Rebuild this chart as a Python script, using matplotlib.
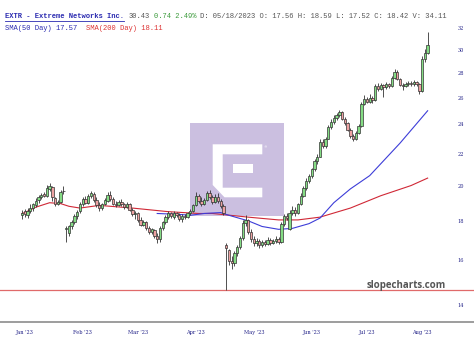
import matplotlib
matplotlib.use("Agg")
import matplotlib.pyplot as plt
from matplotlib.patches import Rectangle, Polygon
from matplotlib.lines import Line2D

# daily candles, Jan '23 - Aug '23
opens = [18.30, 18.55, 18.30, 18.55, 18.70, 18.85, 19.15, 19.30, 19.50, 19.40,
         19.80, 19.90, 19.25, 18.90, 19.05, 19.65, 17.55, 17.35, 17.70, 17.95,
         18.25, 18.55, 18.95, 19.20, 19.00, 19.40, 19.50, 19.15, 18.85, 18.70,
         18.95, 19.10, 19.45, 19.20, 18.95, 18.85, 19.05, 18.90, 18.75, 18.95,
         18.60, 18.35, 18.45, 18.05, 17.80, 17.95, 17.60, 17.40, 17.50, 17.20,
         17.05, 17.60, 17.95, 18.20, 18.40, 18.20, 18.45, 18.30, 18.10, 18.25,
         18.20, 18.40, 18.55, 18.85, 19.40, 19.10, 18.90, 19.15, 19.55, 19.30,
         19.05, 19.35, 19.10, 18.80, 16.75, 16.50, 15.95, 15.85, 16.35, 16.65,
         17.10, 17.90, 18.05, 17.40, 17.05, 16.85, 16.95, 16.75, 16.90, 16.80,
         17.00, 16.85, 16.95, 17.05, 16.90, 17.85, 18.25, 17.56, 18.42, 18.60,
         18.40, 18.90, 19.40, 19.85, 20.30, 20.55, 21.00, 21.50, 21.80, 22.80,
         22.50, 23.00, 23.80, 24.20, 24.50, 24.70, 24.90, 24.40, 24.10, 23.60,
         23.20, 22.95, 23.40, 23.90, 25.50, 25.90, 25.70, 26.00, 25.80, 26.90,
         26.70, 27.00, 26.80, 27.10, 26.90, 27.60, 28.10, 27.50, 27.00, 26.90,
         27.10, 27.20, 27.05, 27.25, 27.10, 26.50, 29.20, 29.70]
highs = [18.60, 18.65, 18.70, 18.95, 19.00, 19.25, 19.45, 19.55, 19.60, 20.05,
         20.15, 19.95, 19.35, 19.15, 19.75, 19.95, 17.70, 17.80, 18.05, 18.35,
         18.60, 19.05, 19.35, 19.40, 19.50, 19.70, 19.60, 19.30, 19.05, 19.00,
         19.25, 19.60, 19.65, 19.35, 19.10, 19.15, 19.20, 19.00, 19.05, 19.00,
         18.70, 18.55, 18.50, 18.20, 18.05, 18.00, 17.70, 17.60, 17.55, 17.35,
         17.70, 18.00, 18.30, 18.55, 18.50, 18.55, 18.50, 18.40, 18.35, 18.35,
         18.50, 18.65, 18.95, 19.60, 19.50, 19.30, 19.25, 19.70, 19.75, 19.45,
         19.50, 19.55, 19.20, 18.90, 16.85, 16.55, 16.20, 16.45, 16.75, 17.20,
         18.05, 18.30, 18.10, 17.55, 17.20, 17.10, 17.05, 17.00, 17.00, 17.15,
         17.10, 17.05, 17.20, 17.15, 17.95, 18.35, 18.40, 18.59, 18.80, 18.75,
         19.00, 19.55, 19.95, 20.45, 20.70, 21.10, 21.65, 21.95, 22.95, 22.95,
         23.15, 23.95, 24.40, 24.70, 24.85, 25.05, 24.95, 24.55, 24.20, 23.75,
         23.35, 23.55, 24.05, 25.70, 26.20, 26.05, 26.25, 26.10, 27.05, 27.20,
         27.15, 27.10, 27.25, 27.20, 27.75, 28.35, 28.20, 27.60, 27.20, 27.25,
         27.35, 27.30, 27.40, 27.35, 27.20, 29.40, 30.10, 31.60]
lows = [18.10, 18.20, 18.15, 18.40, 18.55, 18.75, 19.00, 19.20, 19.30, 19.35,
        19.70, 19.10, 18.80, 18.85, 19.00, 19.50, 16.90, 17.20, 17.55, 17.85,
        18.10, 18.45, 18.80, 18.90, 18.95, 19.25, 19.05, 18.75, 18.55, 18.60,
        18.85, 19.05, 19.10, 18.85, 18.75, 18.80, 18.80, 18.65, 18.70, 18.55,
        18.25, 18.10, 17.95, 17.70, 17.70, 17.50, 17.30, 17.30, 17.10, 16.85,
        16.90, 17.50, 17.85, 18.10, 18.15, 18.10, 18.20, 18.00, 17.95, 18.10,
        18.15, 18.30, 18.50, 18.80, 19.00, 18.80, 18.85, 19.10, 19.20, 18.95,
        19.00, 19.00, 18.70, 18.30, 14.64, 15.80, 15.60, 15.75, 16.20, 16.55,
        17.00, 17.75, 17.30, 16.90, 16.70, 16.70, 16.60, 16.65, 16.70, 16.75,
        16.75, 16.80, 16.85, 16.80, 16.85, 17.75, 18.05, 17.52, 18.30, 18.25,
        18.35, 18.85, 19.30, 19.75, 20.15, 20.45, 20.90, 21.30, 21.75, 22.40,
        22.40, 22.95, 23.70, 24.05, 24.30, 24.55, 24.30, 23.95, 23.50, 23.05,
        22.85, 22.90, 23.30, 23.85, 25.40, 25.55, 25.60, 25.60, 25.75, 26.55,
        26.60, 26.05, 26.70, 26.75, 26.85, 27.50, 27.40, 26.90, 26.60, 26.80,
        26.95, 26.90, 26.95, 26.95, 26.25, 26.45, 28.95, 29.60]
closes = [18.45, 18.35, 18.55, 18.70, 18.90, 19.10, 19.30, 19.45, 19.40, 19.85,
          19.95, 19.30, 18.95, 19.05, 19.60, 19.70, 17.60, 17.70, 17.95, 18.25,
          18.50, 18.95, 19.20, 19.00, 19.40, 19.55, 19.15, 18.85, 18.70, 18.90,
          19.15, 19.45, 19.20, 18.95, 18.85, 19.05, 18.90, 18.75, 18.95, 18.60,
          18.35, 18.45, 18.05, 17.80, 17.95, 17.60, 17.40, 17.55, 17.20, 17.05,
          17.60, 17.95, 18.20, 18.40, 18.25, 18.45, 18.30, 18.10, 18.25, 18.20,
          18.40, 18.55, 18.85, 19.40, 19.10, 18.90, 19.15, 19.55, 19.30, 19.05,
          19.35, 19.10, 18.80, 18.40, 16.60, 15.95, 15.85, 16.35, 16.65, 17.10,
          17.90, 18.05, 17.40, 17.05, 16.85, 16.95, 16.75, 16.90, 16.80, 17.00,
          16.85, 16.95, 17.05, 16.90, 17.85, 18.25, 18.15, 18.42, 18.60, 18.40,
          18.90, 19.40, 19.85, 20.30, 20.55, 21.00, 21.50, 21.80, 22.80, 22.50,
          23.00, 23.80, 24.20, 24.50, 24.70, 24.90, 24.40, 24.10, 23.60, 23.20,
          22.95, 23.40, 23.90, 25.50, 25.90, 25.70, 26.00, 25.80, 26.90, 26.70,
          27.00, 26.80, 27.10, 26.90, 27.60, 28.10, 27.50, 27.00, 26.90, 27.10,
          27.20, 27.05, 27.25, 27.10, 26.50, 29.20, 29.69, 30.43]

# moving averages (day index, value)
sma200_days = [0, 1, 5, 10, 14, 17, 21, 28, 40, 53, 64, 69, 82, 93, 100, 108, 119, 130, 141, 147]
sma200_vals = [18.40, 18.45, 18.75, 19.00, 18.95, 18.80, 18.70, 18.85, 18.70, 18.50,
               18.40, 18.40, 18.20, 18.05, 18.05, 18.20, 18.70, 19.40, 20.00, 20.45]
sma50_days = [49, 57, 61, 66, 72, 75, 82, 87, 93, 98, 104, 108, 113, 119, 126, 137, 147]
sma50_vals = [18.40, 18.35, 18.30, 18.40, 18.45, 18.30, 18.00, 17.70, 17.55, 17.60,
              17.85, 18.15, 19.00, 19.80, 20.60, 22.70, 25.00]

support = 14.64
month_labels = ["Jan '23", "Feb '23", "Mar '23", "Apr '23", "May '23", "Jun '23", "Jul '23", "Aug '23"]
month_days = [1, 22, 42, 63, 84, 105, 125, 145]
price_ticks = [14, 16, 18, 20, 22, 24, 26, 28, 30, 32]

W, H = 474, 341


def px(x, y):
    return x / W, 1 - y / H


fig = plt.figure(figsize=(W / 100, H / 100), dpi=100)
ax = fig.add_axes([0, 19 / H, 1, (322 - 10) / H])
ax.set_yscale("log")
ax.set_ylim(13.31, 33.77)
ax.set_xlim(-7.97, 163.8)

# watermark
ax.add_patch(Rectangle(px(190, 216), 94 / W, 93 / H, transform=fig.transFigure,
                       facecolor="#cbbfe0", edgecolor="none", zorder=0.5))
e_shape = [(212.7, 144.3), (262.3, 144.3), (262.3, 154.3), (222.7, 154.3), (222.7, 187.7),
           (262.3, 187.7), (262.3, 197.3), (224.5, 197.3), (212.7, 185.0)]
ax.add_patch(Polygon([px(*p) for p in e_shape], closed=True, transform=fig.transFigure,
                     facecolor="white", edgecolor="none", zorder=0.6))
ax.add_patch(Rectangle(px(232.7, 173.3), 20.6 / W, 9 / H, transform=fig.transFigure,
                       facecolor="white", edgecolor="none", zorder=0.6))
fig.text(*px(265, 147), "®", fontsize=2.5, color="white", ha="center", va="center")

# candles
days = list(range(len(closes)))
up = [c >= o for o, c in zip(opens, closes)]
ax.vlines(days, lows, highs, color="#333333", linewidth=0.6, zorder=2)
bottoms = [min(o, c) for o, c in zip(opens, closes)]
heights = [max(abs(c - o), 0.02) for o, c in zip(opens, closes)]
ax.bar(days, heights, bottom=bottoms, width=0.85,
       color=["#84dc84" if u else "#eda2a2" for u in up],
       edgecolor="#333333", linewidth=0.5, zorder=3)

ax.plot(sma200_days, sma200_vals, color="#d02836", linewidth=0.8, zorder=1.5)
ax.plot(sma50_days, sma50_vals, color="#3d3dd8", linewidth=0.8, zorder=1.5)
ax.axhline(support, color="#e06a6a", linewidth=0.9, zorder=1.5)

fig.text(*px(406, 288), "slopecharts.com", fontsize=7, fontweight="bold",
         family="Open Sans", color="#555555", ha="center", va="baseline")

for s in ["top", "left", "right"]:
    ax.spines[s].set_visible(False)
ax.spines["bottom"].set_color("#8c8c8c")
ax.spines["bottom"].set_linewidth(1.2)

ax.set_xticks(month_days)
ax.set_xticklabels(month_labels)
ax.tick_params(axis="x", length=0, pad=6, labelsize=3.6, labelcolor="#222288")
ax.set_yticks(price_ticks)
ax.set_yticklabels([str(t) for t in price_ticks])
ax.yaxis.set_minor_locator(matplotlib.ticker.NullLocator())
ax.yaxis.tick_right()
ax.tick_params(axis="y", length=0, pad=-12, labelsize=3.6, labelcolor="#222288")
for lab in ax.get_xticklabels() + ax.get_yticklabels():
    lab.set_family("DejaVu Serif")

# header
fs = 5.1
cw = 0.6 * fs * 100 / 72


def seg(col, row_y, txt, color, weight="normal"):
    fig.text(*px(5 + col * cw, row_y), txt, fontsize=fs, family="Liberation Mono",
             color=color, va="center", ha="left", fontweight=weight)


title = "EXTR - Extreme Networks Inc."
seg(0, 17, title, "#2a2ab0", "bold")
fig.add_artist(Line2D([5 / W, (5 + len(title) * cw) / W], [1 - 21 / H, 1 - 21 / H],
                      color="#2a2ab0", linewidth=0.6))
seg(29, 17, "30.43", "#555555")
seg(35, 17, "0.74 2.49%", "#3a9a3a")
seg(46, 17, "D: 05/18/2023 O: 17.56 H: 18.59 L: 17.52 C: 18.42 V: 34.11", "#555555")
seg(0, 28, "SMA(50 Day) 17.57", "#2a2ab0")
seg(19, 28, "SMA(200 Day) 18.11", "#dd3333")

fig.savefig("out.png", dpi=100)
